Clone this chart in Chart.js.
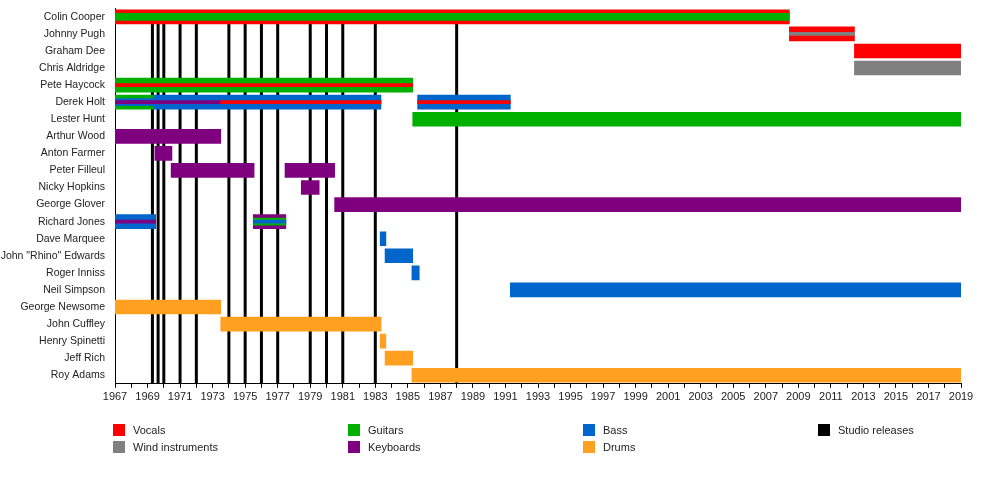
<!DOCTYPE html>
<html>
<head>
<meta charset="utf-8">
<script src="https://cdn.jsdelivr.net/npm/chart.js@4"></script>
<style>
  body { margin: 0; background: #fff; font-family: "Liberation Sans", Arial, sans-serif; }
  #wrap { position: relative; width: 1000px; height: 500px; }
  .lg { position: absolute; font-size: 11px; color: #222; line-height: 12px; }
  .lg span { display: inline-block; width: 12px; height: 12px; vertical-align: top; margin-right: 8px; }
</style>
</head>
<body>
<div id="wrap">
  <canvas id="c" width="1000" height="500"></canvas>
  <div class="lg" style="left:113px;top:424px"><span style="background:#ff0000"></span>Vocals</div>
  <div class="lg" style="left:113px;top:441px"><span style="background:#808080"></span>Wind instruments</div>
  <div class="lg" style="left:348px;top:424px"><span style="background:#00b000"></span>Guitars</div>
  <div class="lg" style="left:348px;top:441px"><span style="background:#7f007f"></span>Keyboards</div>
  <div class="lg" style="left:583px;top:424px"><span style="background:#0066cc"></span>Bass</div>
  <div class="lg" style="left:583px;top:441px"><span style="background:#ffa020"></span>Drums</div>
  <div class="lg" style="left:818px;top:424px"><span style="background:#000"></span>Studio releases</div>
</div>
<script>
// Bandmitglieder (von oben nach unten)
const members = ['Colin Cooper', 'Johnny Pugh', 'Graham Dee', 'Chris Aldridge', 'Pete Haycock', 'Derek Holt',
  'Lester Hunt', 'Arthur Wood', 'Anton Farmer', 'Peter Filleul', 'Nicky Hopkins', 'George Glover',
  'Richard Jones', 'Dave Marquee', 'John "Rhino" Edwards', 'Roger Inniss', 'Neil Simpson',
  'George Newsome', 'John Cuffley', 'Henry Spinetti', 'Jeff Rich', 'Roy Adams'];

// Studioalben
const releases = [1969.3, 1969.65, 1970, 1971, 1972, 1974, 1975, 1976, 1977, 1979, 1980, 1981, 1983, 1988];

// Hauptbalken: [name, von, bis, rolle]
const mainBars = [
  ['Colin Cooper', 1967, 2008.45, 'vocals'],
  ['Johnny Pugh', 2008.45, 2012.45, 'vocals'],
  ['Graham Dee', 2012.45, 2019, 'vocals'],
  ['Chris Aldridge', 2012.45, 2019, 'wind'],
  ['Pete Haycock', 1967, 1985.3, 'guitars'],
  ['Derek Holt', 1967, 1969.4, 'guitars'],
  ['Derek Holt', 1969.4, 1983.35, 'bass'],
  ['Derek Holt', 1985.6, 1991.3, 'bass'],
  ['Lester Hunt', 1985.3, 2019, 'guitars'],
  ['Arthur Wood', 1967, 1973.5, 'keyboards'],
  ['Anton Farmer', 1969.45, 1970.5, 'keyboards'],
  ['Peter Filleul', 1970.45, 1975.55, 'keyboards'],
  ['Peter Filleul', 1977.45, 1980.5, 'keyboards'],
  ['Nicky Hopkins', 1978.45, 1979.55, 'keyboards'],
  ['George Glover', 1980.5, 2019, 'keyboards'],
  ['Richard Jones', 1967, 1969.5, 'bass'],
  ['Richard Jones', 1975.5, 1977.5, 'keyboards'],
  ['Dave Marquee', 1983.3, 1983.65, 'bass'],
  ['John "Rhino" Edwards', 1983.6, 1985.3, 'bass'],
  ['Roger Inniss', 1985.25, 1985.7, 'bass'],
  ['Neil Simpson', 1991.3, 2019, 'bass'],
  ['George Newsome', 1967, 1973.5, 'drums'],
  ['John Cuffley', 1973.5, 1983.35, 'drums'],
  ['Henry Spinetti', 1983.3, 1983.65, 'drums'],
  ['Jeff Rich', 1983.6, 1985.3, 'drums'],
  ['Roy Adams', 1985.25, 2019, 'drums']
];

// Mittlere Streifen (Nebenrollen)
const midBars = [
  ['Colin Cooper', 1967, 2008.45, 'guitars'],
  ['Derek Holt', 1967, 1969.4, 'bass'],
  ['Richard Jones', 1975.5, 1977.5, 'guitars']
];

// Dünne Streifen
const thinBars = [
  ['Johnny Pugh', 2008.45, 2012.45, 'wind'],
  ['Pete Haycock', 1967, 1985.3, 'vocals'],
  ['Derek Holt', 1967, 1973.5, 'keyboards'],
  ['Derek Holt', 1973.5, 1983.35, 'vocals'],
  ['Derek Holt', 1985.6, 1991.3, 'vocals'],
  ['Richard Jones', 1967, 1969.5, 'keyboards'],
  ['Richard Jones', 1975.5, 1977.5, 'bass']
];

const roleColors = {
  vocals: '#ff0000', wind: '#808080', guitars: '#00b000',
  keyboards: '#7f007f', bass: '#0066cc', drums: '#ffa020'
};

function toDataset(list, thickness, order) {
  return {
    data: list.map(b => ({ x: [b[1], b[2]], y: b[0] })),
    backgroundColor: list.map(b => roleColors[b[3]]),
    barThickness: thickness,
    grouped: false,
    order: order
  };
}

const releaseLines = {
  id: 'releaseLines',
  beforeDatasetsDraw(chart) {
    const { ctx, chartArea, scales } = chart;
    ctx.save();
    ctx.strokeStyle = '#000';
    ctx.lineWidth = 3;
    const top = scales.y.getPixelForValue(0) + 7;
    releases.forEach(r => {
      const x = scales.x.getPixelForValue(r);
      ctx.beginPath();
      ctx.moveTo(x, top);
      ctx.lineTo(x, chartArea.bottom);
      ctx.stroke();
    });
    ctx.restore();
  }
};

new Chart(document.getElementById('c'), {
  type: 'bar',
  data: {
    labels: members,
    datasets: [toDataset(mainBars, 14, 3), toDataset(midBars, 7, 2), toDataset(thinBars, 3, 1)]
  },
  options: {
    indexAxis: 'y',
    responsive: false,
    animation: false,
    layout: { padding: { top: -14, bottom: 93, right: 39, left: 0 } },
    plugins: { legend: { display: false }, tooltip: { enabled: false } },
    scales: {
      x: {
        type: 'linear', min: 1967, max: 2019,
        border: { color: '#000' },
        grid: { drawOnChartArea: false, color: '#000', tickLength: 4 },
        ticks: {
          stepSize: 1, autoSkip: false, maxRotation: 0, color: '#222',
          font: { family: 'Liberation Sans', size: 11 },
          callback: v => (v % 2 === 1 ? String(v) : '')
        }
      },
      y: {
        afterFit(s) { s.width = 115; },
        border: { color: '#000' },
        grid: { display: false },
        ticks: { color: '#222', font: { family: 'Liberation Sans', size: 10.5 }, padding: 2 }
      }
    }
  },
  plugins: [releaseLines]
});
</script>
</body>
</html>
